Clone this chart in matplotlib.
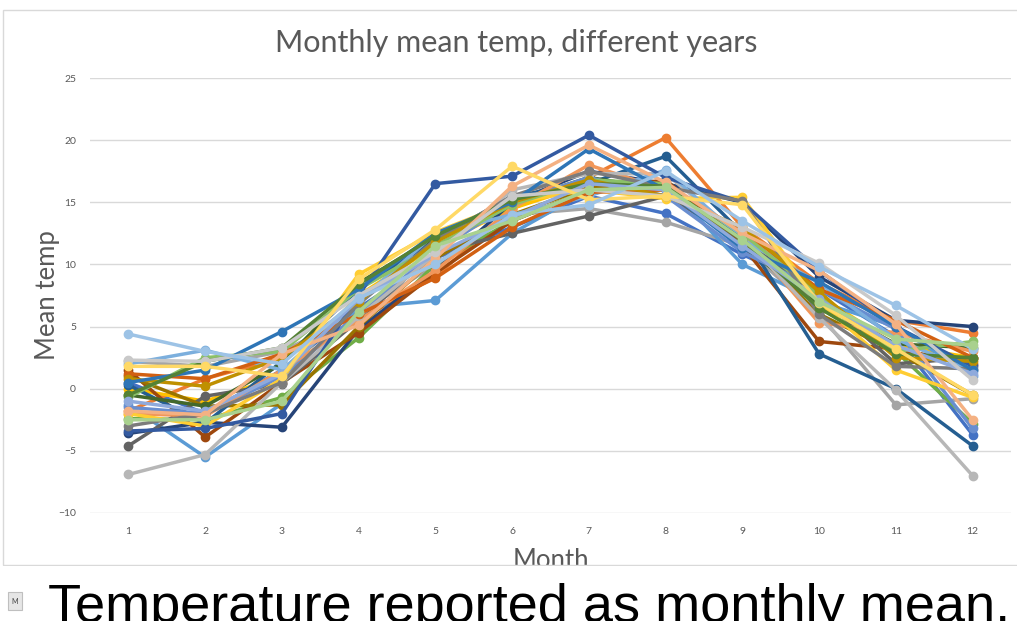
import matplotlib
matplotlib.use('Agg')
import matplotlib.pyplot as plt
from matplotlib.patches import Rectangle

# Data (one row per year, Jan..Dec)
months = list(range(1, 13))
y_ticks = [-10, -5, 0, 5, 10, 15, 20, 25]

temps = [
    [0.5, -2.0, 1.5, 6.5, 10.5, 13.0, 15.5, 14.1, 10.8, 8.0, 4.2, -3.7],
    [-1.8, 0.8, 2.5, 5.5, 9.0, 14.5, 17.0, 20.2, 13.0, 8.5, 5.5, 4.5],
    [2.2, 1.8, 3.0, 6.0, 10.0, 14.0, 14.5, 13.4, 11.5, 6.0, -1.3, -0.8],
    [0.0, -1.0, 1.0, 7.5, 11.5, 14.5, 16.5, 15.5, 12.5, 7.5, 3.5, 2.5],
    [-1.3, -5.5, -1.2, 6.5, 7.1, 12.5, 16.0, 16.5, 10.0, 7.0, 5.0, 1.0],
    [-2.4, -2.5, -0.7, 4.1, 10.0, 13.5, 16.0, 16.4, 11.8, 6.5, 3.0, -2.8],
    [-3.6, -2.7, -3.1, 4.8, 9.5, 15.0, 17.5, 16.5, 15.0, 9.0, 5.5, 5.0],
    [1.5, -3.9, 0.5, 4.5, 9.3, 13.5, 16.0, 16.8, 11.5, 3.8, 3.2, 2.0],
    [-4.6, -0.6, 0.4, 5.5, 11.0, 12.5, 13.9, 15.5, 12.0, 7.5, 2.0, 2.5],
    [1.0, -1.4, -1.3, 5.0, 10.5, 14.0, 16.2, 16.0, 12.0, 6.0, 3.0, -0.5],
    [0.3, -2.8, 2.2, 8.0, 12.0, 15.5, 16.5, 18.7, 12.5, 2.8, 0.0, -4.6],
    [-0.5, -1.4, 2.0, 8.5, 12.2, 15.0, 17.0, 16.0, 11.5, 6.8, 3.6, 3.3],
    [-1.5, -2.0, 1.0, 6.0, 11.0, 15.0, 17.0, 15.5, 11.0, 8.0, 4.8, -3.2],
    [-2.0, -2.2, 1.5, 5.5, 9.5, 14.5, 18.0, 16.0, 12.5, 5.3, 4.5, 3.0],
    [-6.9, -5.3, 0.5, 5.8, 10.8, 16.0, 17.3, 17.3, 12.2, 5.7, -0.1, -7.0],
    [-2.0, -3.0, 0.8, 9.2, 12.6, 15.0, 16.0, 15.3, 15.4, 7.0, 1.5, -0.7],
    [2.0, 3.1, 1.5, 7.0, 12.5, 14.0, 15.5, 17.6, 12.0, 8.5, 4.0, 1.4],
    [-0.7, 2.5, 3.0, 8.0, 11.5, 14.8, 16.8, 16.5, 12.5, 7.5, 3.0, 3.8],
    [-3.4, -3.2, -2.0, 7.5, 16.5, 17.1, 20.4, 17.0, 15.0, 9.5, 5.0, 1.8],
    [1.2, 0.8, 2.8, 6.0, 8.9, 13.0, 15.8, 16.0, 12.8, 8.0, 5.5, 2.5],
    [-3.0, -2.0, 0.5, 6.8, 12.0, 15.5, 17.5, 16.2, 15.1, 6.0, 1.8, 1.6],
    [0.8, 0.2, 2.5, 7.0, 11.8, 15.0, 16.8, 15.5, 13.0, 7.8, 2.5, 2.2],
    [0.5, 1.5, 4.6, 8.0, 12.5, 15.0, 19.3, 16.0, 11.3, 8.6, 5.0, 1.5],
    [-0.5, 2.2, 3.3, 8.4, 12.3, 15.2, 16.5, 16.3, 12.0, 6.5, 2.8, 2.5],
    [-1.0, -1.8, 1.2, 7.2, 10.8, 13.8, 16.5, 16.0, 11.5, 7.2, 3.5, 1.2],
    [-1.8, -2.1, 2.8, 5.1, 10.5, 16.3, 19.6, 16.6, 12.5, 9.5, 5.2, -2.5],
    [2.3, 2.2, 3.3, 7.5, 11.0, 15.5, 16.0, 15.5, 13.0, 10.1, 5.9, 0.7],
    [1.8, 1.8, 1.0, 8.8, 12.8, 17.9, 15.2, 15.5, 14.8, 6.9, 3.2, -0.5],
    [4.4, 3.0, 2.0, 7.3, 10.0, 14.0, 14.8, 17.5, 13.5, 9.8, 6.7, 3.2],
    [-2.5, -2.5, -1.0, 6.2, 11.5, 13.5, 16.0, 16.2, 12.0, 7.0, 4.0, 3.5],
]

# Excel-style series colours
colors = ['#4472C4', '#ED7D31', '#A5A5A5', '#FFC000', '#5B9BD5', '#70AD47',
          '#264478', '#9E480E', '#636363', '#997300', '#255E91', '#43682B',
          '#698ED0', '#F1975A', '#B7B7B7', '#FFCD33', '#7CAFDD', '#8CC168',
          '#335AA1', '#D26012', '#7C7C7C', '#BF9000', '#2E75B6', '#548235',
          '#8FAADC', '#F4B183', '#C9C9C9', '#FFD966', '#9DC3E6', '#A9D18E']

plt.rcParams['font.family'] = ['Lato', 'DejaVu Sans']

fig = plt.figure(figsize=(10.17, 6.21), dpi=100)
ax = fig.add_axes([90 / 1017, 1 - 513 / 621, (1011 - 90) / 1017, (513 - 78) / 621])

for i, row in enumerate(temps):
    ax.plot(months, row, color=colors[i % len(colors)], lw=2.5,
            marker='o', markersize=6, zorder=3)

ax.set_xlim(0.5, 12.5)
ax.set_ylim(-10, 25)
ax.set_yticks(y_ticks)
ax.set_xticks(months)
ax.grid(axis='y', color='#d9d9d9', lw=1, zorder=0)
for s in ax.spines.values():
    s.set_visible(False)
ax.tick_params(length=0, colors='#595959', labelsize=7.5, pad=10)

ax.set_ylabel('Mean temp', fontsize=18.5, color='#595959', labelpad=-1)
ax.set_xlabel('Month', fontsize=18.5, color='#595959', labelpad=9)
fig.text(0.508, 1 - 43 / 621, 'Monthly mean temp, different years',
         ha='center', va='center', fontsize=22, color='#595959')

# chart frame
fig.patches.append(Rectangle((3 / 1017, 1 - 565 / 621), 1.0, (565 - 10) / 621,
                             transform=fig.transFigure, fill=False,
                             edgecolor='#d9d9d9', lw=1))

# slide area below the chart covering the bottom of the axis title
fig.patches.append(Rectangle((0, 0), 1, 1 - 566 / 621, transform=fig.transFigure,
                             facecolor='white', edgecolor='none', zorder=5))
fig.patches.append(Rectangle((8 / 1017, 1 - 610 / 621), 14 / 1017, 18 / 621,
                             transform=fig.transFigure, facecolor='#e6e6e6',
                             edgecolor='#bfbfbf', lw=0.8, zorder=6))
fig.text(15 / 1017, 1 - 601 / 621, 'M', fontsize=5, color='#404040',
         ha='center', va='center', zorder=7)
fig.text(48 / 1017, 1 - 622 / 621, 'Temperature reported as monthly mean.',
         fontsize=39, color='black', family=['Liberation Sans', 'DejaVu Sans'],
         ha='left', va='baseline', zorder=7)

fig.savefig('out.png', dpi=100)
